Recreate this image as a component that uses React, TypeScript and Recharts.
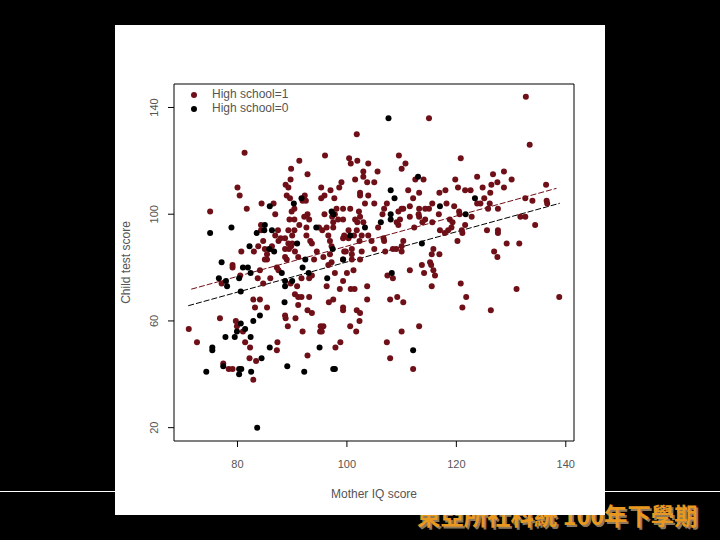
import React from 'react';
import { ScatterChart, Scatter, XAxis, YAxis, ReferenceLine, ReferenceArea, Legend } from 'recharts';

// [mother IQ, child test score]
const highSchool1: [number, number][] = [
  [81.3,123],[91.3,120],[96,122],[100.4,121],[100.7,119],[89.8,117],[92.8,115],[89.7,113],[88.8,111],[89.3,110],
  [80,110],[80.4,107],[95.3,110],[97,109],[99,112],[98.6,110],[89,107],[89.6,106],[92.3,107],[91.9,105],
  [92.5,105],[95.9,107],[95.3,106],[97.7,106],[81.7,102],[84.4,104],[86.6,104],[75,101],[86.9,100],[90.4,102],
  [89.9,101],[92.8,100],[92.2,99],[93.1,98],[95.9,100],[98.1,102],[99.3,102],[100.6,102],[97.8,100],[97.3,99],
  [89.5,98],[90.4,98],[97.5,97],[98.4,98],[99.3,98],[84.3,96],[84.3,94],[87.4,94],[89.3,94],[90.4,94],
  [91.3,96],[92.6,95],[94.9,95],[95.5,94],[96.3,95],[97.5,95],[100.3,94],[86.9,92],[87.9,91],[88.7,91],
  [90,92],[92.6,92],[96.6,92],[99.5,92],[99.3,91],[101.3,92],[84.7,90],[87.5,90],[93.3,90],[93.6,89],
  [96.9,90],[97.2,88],[100.3,91],[83.8,88],[86.3,88],[89.3,89],[89.8,88],[90,89],[85,87],[86,87],
  [88.7,87],[89.4,87],[99.5,86],[99.8,86],[100.9,87],[80.7,86],[83,86],[90.5,86],[94.5,86],[96.9,85],
  [100.9,85],[85.4,85],
  [85.4,83],[85,83],[88.7,84],[89,83],[91.1,84],[94,83],[95.7,84],[97.2,82],[99.3,83],[96.6,81],
  [100,78],[79.1,81],[79.1,80],[80.5,77],[84.1,79],[83.7,76],[86,76],[87.2,80],[87.5,79],[77.1,74],
  [84.7,74],[89.7,74],[91.7,76],[93.6,77],[93.1,76],[90.9,73],[97.8,78],[99.3,75],[96.3,73],[98.7,72],
  [100.7,72],[101.4,72],[101.2,79],[90.5,70],[91.1,69],[91.7,69],[93.1,69],[82.9,68],[84.1,68],[97.5,68],
  [96.7,67],[91.1,66],[83.2,65],[85.4,65],[99.3,65],[99.3,64],[92.8,64],[93.6,63],[88.7,62],[88.8,61],
  [90.6,61],[76.8,61],[79.7,60],[79.9,58],[89.2,58],[95.2,58],[95.7,58],[100.6,58],[71.1,57],[81,56],
  [91.9,56],[95.1,56],[95.4,56],[72.6,52],[81.4,52],[87.3,52],[98.8,52],[82.3,50],[97.9,50],[87.2,49],
  [92.8,47],[82.2,46],[83.4,45],[77.4,44],[78.4,42],[79.1,42],[82.9,38],
  [132.7,144],[115,136],[101.8,130],[133.4,126],[109.5,122],[110.7,119],[110,117],[101.9,120],[103.9,119],[120.8,121],
  [103,116],[105.6,116],[103,114],[101.5,113],[103.7,112],[105,112],[114,113],[112.5,113],[119.8,113],[123.8,114],
  [126.7,115],[128.7,116],[130.1,113],[127.5,112],[126.4,111],[124.8,110],[120.3,110],[121.6,109],[122.6,109],[128.7,110],
  [136.4,111],[111.2,109],[113.2,108],[116.9,108],[118,109],[126.2,108],[102.4,108],[102.4,107],[103.9,107],[112.1,106],
  [125.1,106],[123.8,104],[124.4,104],[126.1,104],[132.6,106],[133.9,105],[136.5,105],[136.6,104],[103.3,104],[105,104],
  [107.3,104],[106.8,102],[106.5,100],[102.2,101],[102.4,99],[111.5,103],[110.3,102],[110,102],[109.4,101],[113.2,102],
  [113.1,100],[113.2,99],[114.3,102],[115,102],[115.6,104],[118.2,104],[119.6,103],[116.8,100],[120.5,101],[120.6,100],
  [122.8,99],[125.8,102],[127.6,102],[111.5,99],[109.7,98],[114.3,98],[113.8,97],[115.6,97],[109.1,97],[109.4,96],
  [101.5,98],[101.9,97],[103,97],[118.8,98],[119.3,97],[119.1,95],[118.5,94],[117.9,93],[117,94],[121.6,96],
  [121,94],[121.1,93],[112.3,95],[105.7,95],[101.8,94],[125.6,94],[127.6,94],[127.6,93],[131.7,99],[132.6,99],
  [134.4,96],[102.7,92],[103.9,92],[104.5,90],[106.7,91],[106.8,90],[110.3,90],[110,88],[102.3,90],[120.2,90],
  [129.2,89],[131.5,89],[102.7,86],[105,87],[107,86],[108.4,87],[109,87],[110,86],[115.8,87],[115.5,85],
  [116.9,85],[126.9,86],
  [127.5,84],[115.2,82],[115.4,81],[113.7,81],[111.5,79],[115.8,79],[114.1,78],[116.1,77],[100.9,83],[102.4,83],
  [107.4,77],[108.4,76],[115.5,73],[120.8,74],[103.7,73],[121.8,69],[131,72],[138.8,69],[103.7,68],[107.9,68],
  [109.2,69],[110.3,67],[121.1,65],[126.3,64],[101.8,64],[102.4,63],[102.3,60],[113.2,58],[101.7,56],[110,56],
  [107.3,52],[107.9,46],[112.1,42],
];

const highSchool0: [number, number][] = [
  [85.9,103],[90.3,104],[97.2,101],[97.5,100],[75,93],[78.9,95],[83.5,93],[85,96],[84.9,94],[86.3,94],
  [94.4,95],[100.6,92],[82.2,88],[90.9,89],[85.8,87],[86.7,86],[97.4,87],[91.7,106],
  [77.1,82],[81,80],[81.9,80],[91.9,80],[92.4,83],[82.4,78],[88.1,78],[93,78],[96.4,76],[76.6,76],
  [77.9,75],[80.3,76],[88.7,75],[90,75],[78.1,73],[88.7,73],[80.6,71],[88.6,67],[84.1,62],[82.9,60],
  [80.6,59],[81.4,57],[79.9,56],[77.8,54],[79.5,54],[82.4,54],[75.4,50],[75.4,49],[85.9,50],[95,50],
  [84.4,46],[77.4,43],[80.3,42],[80.7,42],[74.3,41],[82.5,41],[80.3,40],[89.1,43],[92.2,41],[97.5,42],
  [97.8,42],[83.6,20],[99.3,83],
  [107.6,136],[113,114],[108,109],[108.7,106],[123.4,106],[117,103],[121.7,100],[108,100],[108,98],[106.2,97],
  [103.3,95],[113.7,89],[108.2,78],[112.1,49],
];

const xTicks = [80, 100, 120, 140];
const yTicks = [20, 60, 100, 140];
const xDomain: [number, number] = [68.4, 141.5];
const yDomain: [number, number] = [15, 148.8];

// fitted lines, [x, y] at both ends
const fitHigh: [number, number][] = [[71.55, 71.9], [138.3, 109.7]];
const fitLow: [number, number][] = [[71, 65.7], [138.9, 104.1]];

const RED = '#6f0f17';
const INK = '#555';
const FONT = '"Liberation Sans", Arial, sans-serif';

const toPoints = (rows: [number, number][]) => rows.map(([mom, kid]) => ({ mom, kid }));
const toSegment = (line: [number, number][]) => line.map(([x, y]) => ({ x, y })) as any;

const Dot = ({ cx, cy, fill }: any) => <circle cx={cx} cy={cy} r={3} fill={fill} />;

// R draws the y tick labels sideways and further out than recharts does
const RotatedTick = ({ x, y, payload }: any) => (
  <text
    x={x - 8}
    y={y}
    transform={`rotate(-90 ${x - 8} ${y})`}
    textAnchor="middle"
    fontSize={11}
    fontFamily={FONT}
    fill={INK}
  >
    {payload.value}
  </text>
);

const legendRows = [
  { label: 'High school=1', color: RED },
  { label: 'High school=0', color: '#000' },
];

const LegendBox = () => (
  <div style={{ fontFamily: FONT, fontSize: 12, color: INK, lineHeight: '13.7px' }}>
    {legendRows.map((row) => (
      <div key={row.label} style={{ display: 'flex', alignItems: 'center' }}>
        <span style={{ width: 6, height: 6, borderRadius: 3, background: row.color, marginRight: 15 }} />
        <span>{row.label}</span>
      </div>
    ))}
  </div>
);

export default function App() {
  return (
    <div style={{ position: 'fixed', left: 0, top: 0, width: 720, height: 540, background: '#000', overflow: 'hidden' }}>
      <div style={{ position: 'absolute', left: 0, top: 491, width: 720, height: 1, background: '#fff' }} />
      <div
        style={{
          position: 'absolute',
          left: 417,
          top: 499,
          whiteSpace: 'nowrap',
          fontFamily: '"Noto Sans CJK TC", sans-serif',
          fontSize: 23.4,
          fontWeight: 700,
          lineHeight: '32px',
          color: '#e8981e',
          textShadow: '2px 2px 0 #8c7a5a',
        }}
      >
        東亞所社科統 100年下學期
      </div>
      <div style={{ position: 'absolute', left: 115, top: 25, width: 490, height: 490, background: '#fff' }} />
      <div style={{ position: 'absolute', left: 0, top: 0 }}>
        <ScatterChart width={720} height={540} margin={{ top: 84, right: 146, bottom: 0, left: 0 }}>
          <XAxis
            type="number"
            dataKey="mom"
            domain={xDomain}
            ticks={xTicks}
            allowDataOverflow
            height={99}
            axisLine={false}
            tickLine={{ stroke: '#000' }}
            tickSize={6}
            tickMargin={13}
            tick={{ fontSize: 11, fontFamily: FONT, fill: INK }}
            label={{ value: 'Mother IQ score', position: 'insideBottom', offset: 42, fontSize: 12, fontFamily: FONT, fill: INK }}
          />
          <YAxis
            type="number"
            dataKey="kid"
            domain={yDomain}
            ticks={yTicks}
            allowDataOverflow
            width={174}
            axisLine={false}
            tickLine={{ stroke: '#000' }}
            tickSize={6}
            tick={<RotatedTick />}
            label={{ value: 'Child test score', angle: -90, position: 'insideLeft', offset: 126, textAnchor: 'middle', fontSize: 12, fontFamily: FONT, fill: INK }}
          />
          <ReferenceArea x1={xDomain[0]} x2={xDomain[1]} y1={yDomain[0]} y2={yDomain[1]} fill="none" stroke="#000" strokeWidth={1} />
          <Scatter data={toPoints(highSchool1)} fill={RED} shape={<Dot />} isAnimationActive={false} />
          <Scatter data={toPoints(highSchool0)} fill="#000" shape={<Dot />} isAnimationActive={false} />
          <ReferenceLine segment={toSegment(fitHigh)} stroke={RED} strokeDasharray="6 2" strokeWidth={1} />
          <ReferenceLine segment={toSegment(fitLow)} stroke="#000" strokeDasharray="6 2" strokeWidth={1} />
          <Legend
            layout="vertical"
            align="center"
            verticalAlign="middle"
            content={<LegendBox />}
            wrapperStyle={{ left: 191, top: 88, width: 110 }}
          />
        </ScatterChart>
      </div>
    </div>
  );
}
